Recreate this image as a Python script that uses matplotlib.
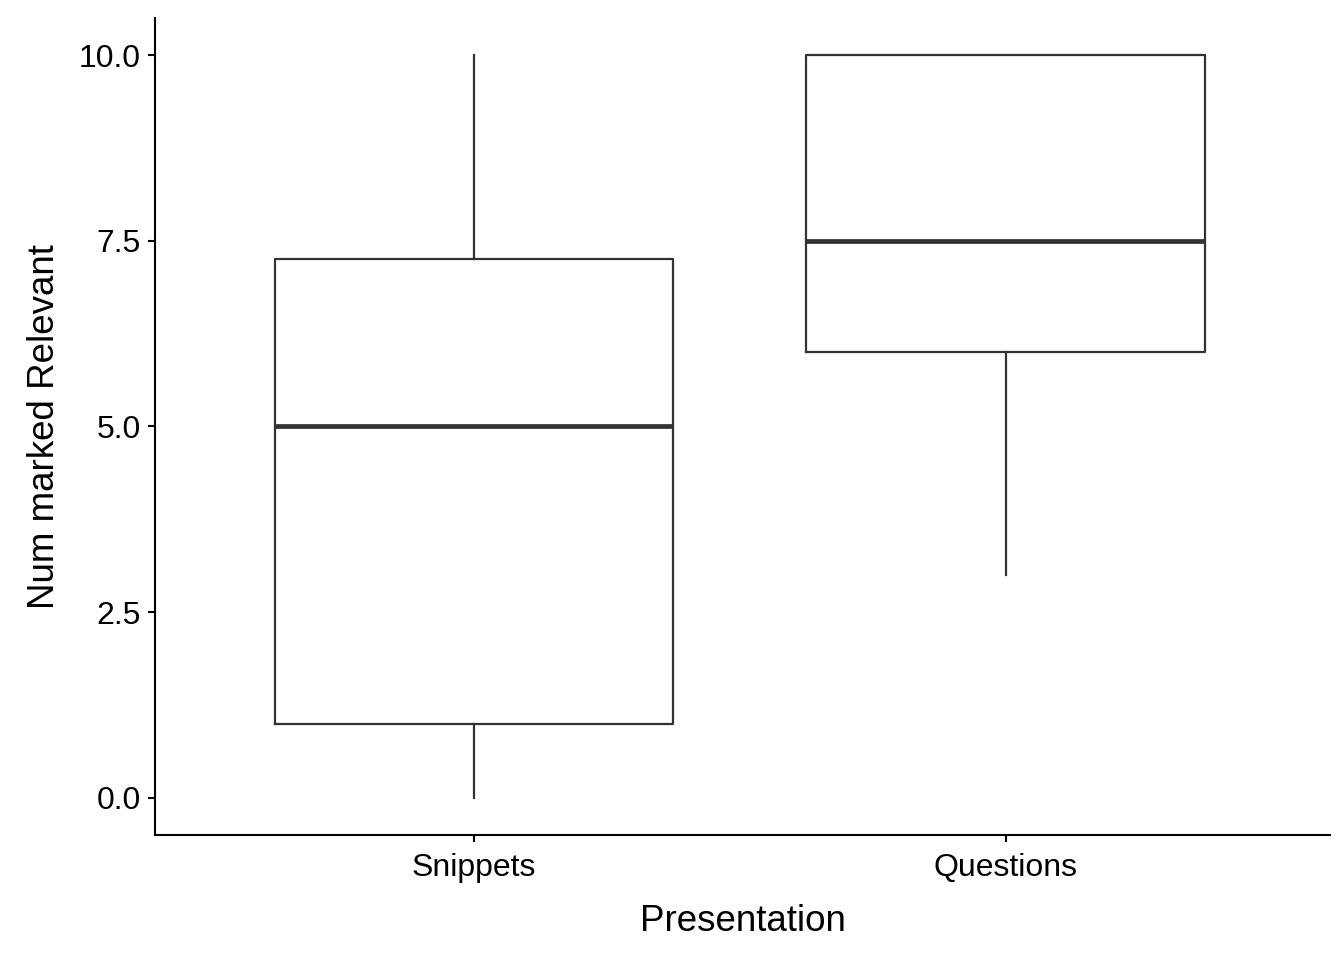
import matplotlib
matplotlib.use("Agg")
import matplotlib.pyplot as plt

plt.rcParams["font.family"] = ["Liberation Sans", "DejaVu Sans"]

groups = ["Snippets", "Questions"]
whisker_low = [0, 3]
q1 = [1, 6]
medians = [5, 7.5]
q3 = [7.25, 10]
whisker_high = [10, 10]

stats = []
for i, name in enumerate(groups):
    stats.append({"label": name, "whislo": whisker_low[i], "q1": q1[i],
                  "med": medians[i], "q3": q3[i], "whishi": whisker_high[i],
                  "fliers": []})

fig = plt.figure(figsize=(13.44, 9.6), dpi=100)
ax = fig.add_axes([155 / 1344, 1 - 835 / 960, 1175 / 1344, 817 / 960])

line = "#333333"
ax.bxp(stats, positions=[1, 2], widths=0.75, showcaps=False,
       boxprops=dict(color=line, linewidth=1.6),
       whiskerprops=dict(color=line, linewidth=1.6),
       medianprops=dict(color=line, linewidth=3.4),
       patch_artist=False)

ax.set_xlim(0.4, 2.61)
ax.set_ylim(-0.5, 10.5)
ax.set_yticks([0, 2.5, 5, 7.5, 10])
ax.set_yticklabels(["0.0", "2.5", "5.0", "7.5", "10.0"])
ax.set_xticks([1, 2])
ax.set_xticklabels(groups)

for s in ["top", "right"]:
    ax.spines[s].set_visible(False)
for s in ["left", "bottom"]:
    ax.spines[s].set_linewidth(1.5)
ax.tick_params(axis="both", labelsize=23, length=5, width=1.5, color="black", labelcolor="black")
ax.tick_params(axis="x", pad=8)
ax.tick_params(axis="y", pad=5)
ax.set_xlabel("Presentation", fontsize=26.5, labelpad=15)
ax.set_ylabel("Num marked Relevant", fontsize=26.5, labelpad=12)

fig.savefig("out.png", dpi=100)
